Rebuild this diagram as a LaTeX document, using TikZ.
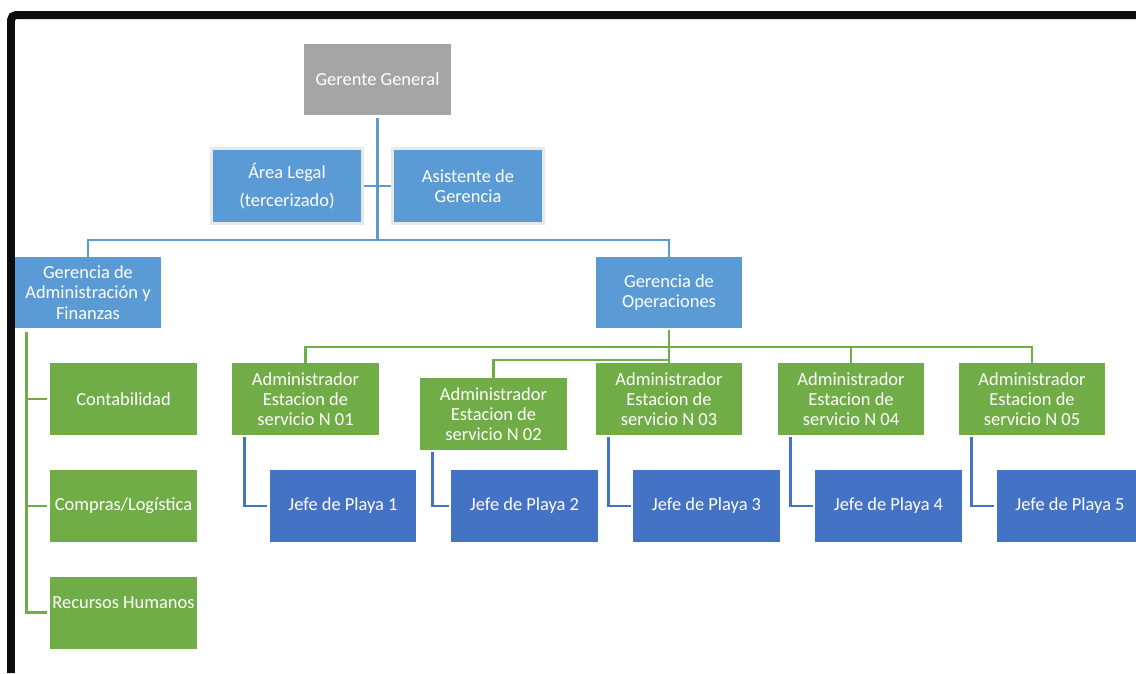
\documentclass[tikz,border=0pt]{standalone}
\usepackage{fontspec}
\setmainfont{Carlito}
\usetikzlibrary{calc, positioning}
\definecolor{bossgray}{HTML}{A5A5A5}
\definecolor{mgrblue}{HTML}{5B9BD5}
\definecolor{opgreen}{HTML}{70AD47}
\definecolor{jefeblue}{HTML}{4472C4}

\begin{document}
\begin{tikzpicture}[
    x=0.02cm, y=-0.02cm,
    box/.style={minimum width=2.94cm, minimum height=1.44cm, inner sep=1pt, text=white, align=center, font=\fontsize{10.5}{11.5}\selectfont},
    boss node/.style={box, fill=bossgray},
    mgr node/.style={box, fill=mgrblue},
    staff node/.style={mgr node, draw=gray!18, line width=0.06cm, minimum width=3.02cm, minimum height=1.5cm},
    area node/.style={box, fill=opgreen},
    jefe node/.style={box, fill=jefeblue},
    mgr line/.style={mgrblue, line width=0.055cm},
    area line/.style={opgreen, line width=0.055cm},
    jefe line/.style={jefeblue, line width=0.055cm}
]
\useasboundingbox (0,0) rectangle (1136,673);

% Frame
\draw[line width=0.16cm, black!95, rounded corners=0.1cm] (11,673) -- (11,15) -- (1136,15);

% Main Nodes
\node[boss node] (gg) at (377.5,79.5) {Gerente General};
\node[staff node] (legal) at (287,186) {Área Legal\\[4pt](tercerizado)};
\node[staff node] (asist) at (468,186) {Asistente de\\Gerencia};
\node[mgr node, minimum width=2.92cm, minimum height=1.42cm] (gaf) at (88,292.5) {Gerencia de\\Administración y\\Finanzas};
\node[mgr node, minimum width=2.92cm, minimum height=1.42cm] (gop) at (669,292.5) {Gerencia de\\Operaciones};

% Areas of Administracion y Finanzas
\node[area node] (cont) at (123.5,399) {Contabilidad};
\node[area node] (comp) at (123.5,506) {Compras/Logística};
\node[area node] (rrhh) at (123.5,612.5) {Recursos Humanos\\~};

% Service stations
\node[area node] (adm1) at (305.5,399) {Administrador\\Estacion de\\servicio N 01};
\node[area node] (adm2) at (493.5,414) {Administrador\\Estacion de\\servicio N 02};
\node[area node] (adm3) at (669,399) {Administrador\\Estacion de\\servicio N 03};
\node[area node] (adm4) at (851,399) {Administrador\\Estacion de\\servicio N 04};
\node[area node] (adm5) at (1032,399) {Administrador\\Estacion de\\servicio N 05};

\node[jefe node] (jefe1) at (343,506) {Jefe de Playa 1};
\node[jefe node] (jefe2) at (524.5,506) {Jefe de Playa 2};
\node[jefe node] (jefe3) at (706.5,506) {Jefe de Playa 3};
\node[jefe node] (jefe4) at (888.5,506) {Jefe de Playa 4};
\node[jefe node] (jefe5) at (1070,506) {Jefe de Playa 5};

% Top level lines
\coordinate (bus) at (377.5,240);
\draw[mgr line] ($(gg.south)+(0,2)$) -- (bus);
\draw[mgr line] (gaf.north) |- (bus) -| (gop.north);
\draw[mgr line] (legal) -- (asist);

% Administracion y Finanzas lines
\coordinate (gafdrop) at ($(gaf.south west)+(12,4)$);
\draw[area line] (gafdrop) |- ($(rrhh.west)+(-3,0)$);
\draw[area line] (gafdrop |- cont.west) -- ($(cont.west)+(-3,0)$);
\draw[area line] (gafdrop |- comp.west) -- ($(comp.west)+(-3,0)$);

% Operaciones lines
\coordinate (opbus) at (669,347);
\coordinate (opjog) at (669,360);
\draw[area line] ($(gop.south)+(0,2)$) -- (adm3.north);
\draw[area line] (adm1.north) |- (opbus) -| (adm5.north);
\draw[area line] (opbus -| adm4.north) -- (adm4.north);
\draw[area line] (opjog) -| (adm2.north);

% Jefe de Playa lines
\draw[jefe line] ($(adm1.south west)+(13,2)$) |- ($(jefe1.west)+(-2,0)$);
\draw[jefe line] ($(adm2.south west)+(13,2)$) |- ($(jefe2.west)+(-2,0)$);
\draw[jefe line] ($(adm3.south west)+(13,2)$) |- ($(jefe3.west)+(-2,0)$);
\draw[jefe line] ($(adm4.south west)+(13,2)$) |- ($(jefe4.west)+(-2,0)$);
\draw[jefe line] ($(adm5.south west)+(13,2)$) |- ($(jefe5.west)+(-2,0)$);
\end{tikzpicture}
\end{document}
